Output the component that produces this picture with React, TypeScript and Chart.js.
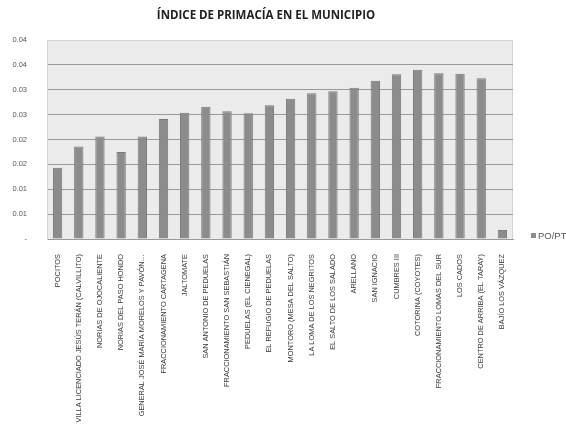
import { useEffect, useRef } from 'react';
import { Chart, registerables } from 'chart.js';

Chart.register(...registerables);

const titleText = 'ÍNDICE DE PRIMACÍA EN EL MUNICIPIO';
const seriesName = 'PO/PT';

const categories = [
  'POCITOS',
  'VILLA LICENCIADO JESÚS TERÁN (CALVILLITO)',
  'NORIAS DE OJOCALIENTE',
  'NORIAS DEL PASO HONDO',
  'GENERAL JOSÉ MARÍA MORELOS Y PAVÓN…',
  'FRACCIONAMIENTO CARTAGENA',
  'JALTOMATE',
  'SAN ANTONIO DE PEDUELAS',
  'FRACCIONAMIENTO SAN SEBASTIÁN',
  'PEDUELAS (EL CIENEGAL)',
  'EL REFUGIO DE PEDUELAS',
  'MONTORO (MESA DEL SALTO)',
  'LA LOMA DE LOS NEGRITOS',
  'EL SALTO DE LOS SALADO',
  'ARELLANO',
  'SAN IGNACIO',
  'CUMBRES III',
  'COTORINA (COYOTES)',
  'FRACCIONAMIENTO LOMAS DEL SUR',
  'LOS CADOS',
  'CENTRO DE ARRIBA (EL TARAY)',
  'BAJÍO LOS VÁZQUEZ',
];

const values = [
  0.0143, 0.0186, 0.0206, 0.0175, 0.0206, 0.0241, 0.0254, 0.0266, 0.0257, 0.0253, 0.0269,
  0.0282, 0.0293, 0.0297, 0.0304, 0.0318, 0.0331, 0.034, 0.0333, 0.0332, 0.0323, 0.0018,
];

const yTickLabels = ['-', '0.01', '0.01', '0.02', '0.02', '0.03', '0.03', '0.04', '0.04'];
const yMax = 0.04;
const yStep = 0.005;

const FONT = "'Liberation Sans Narrow', 'Arial Narrow', 'Liberation Sans', sans-serif";

const decorPlugin = {
  id: 'decor',
  beforeDraw(chart: any) {
    const { ctx, chartArea } = chart;
    ctx.save();
    ctx.fillStyle = '#ebebeb';
    ctx.fillRect(chartArea.left, chartArea.top, chartArea.right - chartArea.left, chartArea.bottom - chartArea.top);
    ctx.strokeStyle = '#d2d2d2';
    ctx.lineWidth = 1;
    ctx.strokeRect(chartArea.left + 0.5, chartArea.top + 0.5, chartArea.right - chartArea.left - 1, chartArea.bottom - chartArea.top);
    ctx.restore();
  },
  afterDraw(chart: any) {
    const { ctx, chartArea } = chart;
    ctx.save();
    ctx.fillStyle = '#222';
    ctx.font = "bold 11.5px 'Open Sans', sans-serif";
    ctx.textAlign = 'center';
    ctx.textBaseline = 'middle';
    ctx.fillText(titleText, 266, 16);
    // legend
    const lx = chartArea.right + 18;
    const ly = chartArea.bottom - 3;
    ctx.fillStyle = '#8c8c8c';
    ctx.fillRect(lx, ly - 3, 5, 5);
    ctx.fillStyle = '#555';
    ctx.font = `9.5px 'Liberation Sans', sans-serif`;
    ctx.textAlign = 'left';
    ctx.fillText(seriesName, lx + 7, ly);
    ctx.restore();
  },
};

export default function App() {
  const ref = useRef<HTMLCanvasElement>(null);
  useEffect(() => {
    document.body.style.margin = '0';
    const chart = new Chart(ref.current!, {
      type: 'bar',
      data: {
        labels: categories,
        datasets: [
          {
            label: seriesName,
            data: values,
            backgroundColor: '#8c8c8c',
            borderColor: '#7a7a7a',
            borderWidth: 1,
            barPercentage: 0.44,
            categoryPercentage: 1,
          },
        ],
      },
      options: {
        animation: false,
        responsive: true,
        maintainAspectRatio: false,
        layout: { padding: { top: 40, right: 53, left: 0, bottom: 0 } },
        plugins: {
          legend: { display: false },
          title: { display: false },
          tooltip: { enabled: false },
        },
        scales: {
          x: {
            grid: { display: false },
            border: { color: '#9a9a9a' },
            ticks: {
              autoSkip: false,
              maxRotation: 90,
              minRotation: 90,
              padding: 7,
              color: '#3a3a3a',
              font: { family: FONT, size: 7.4 },
            },
            afterFit(scale: any) {
              scale.height = 188;
            },
          },
          y: {
            min: 0,
            max: yMax,
            ticks: {
              stepSize: yStep,
              padding: 20,
              color: '#555',
              font: { family: "'Liberation Sans', sans-serif", size: 7.5 },
              callback: (_v: any, i: number) => yTickLabels[i],
            },
            grid: {
              drawTicks: false,
              color: (c: any) => (c.tick && c.tick.value >= yMax - 1e-9 ? '#d2d2d2' : '#9a9a9a'),
            },
            border: { color: '#d2d2d2' },
            afterFit(scale: any) {
              scale.width = 47;
            },
          },
        },
      },
      plugins: [decorPlugin],
    });
    return () => chart.destroy();
  }, []);
  return (
    <div style={{ width: 566, height: 427, position: 'relative' }}>
      <canvas ref={ref} />
    </div>
  );
}
